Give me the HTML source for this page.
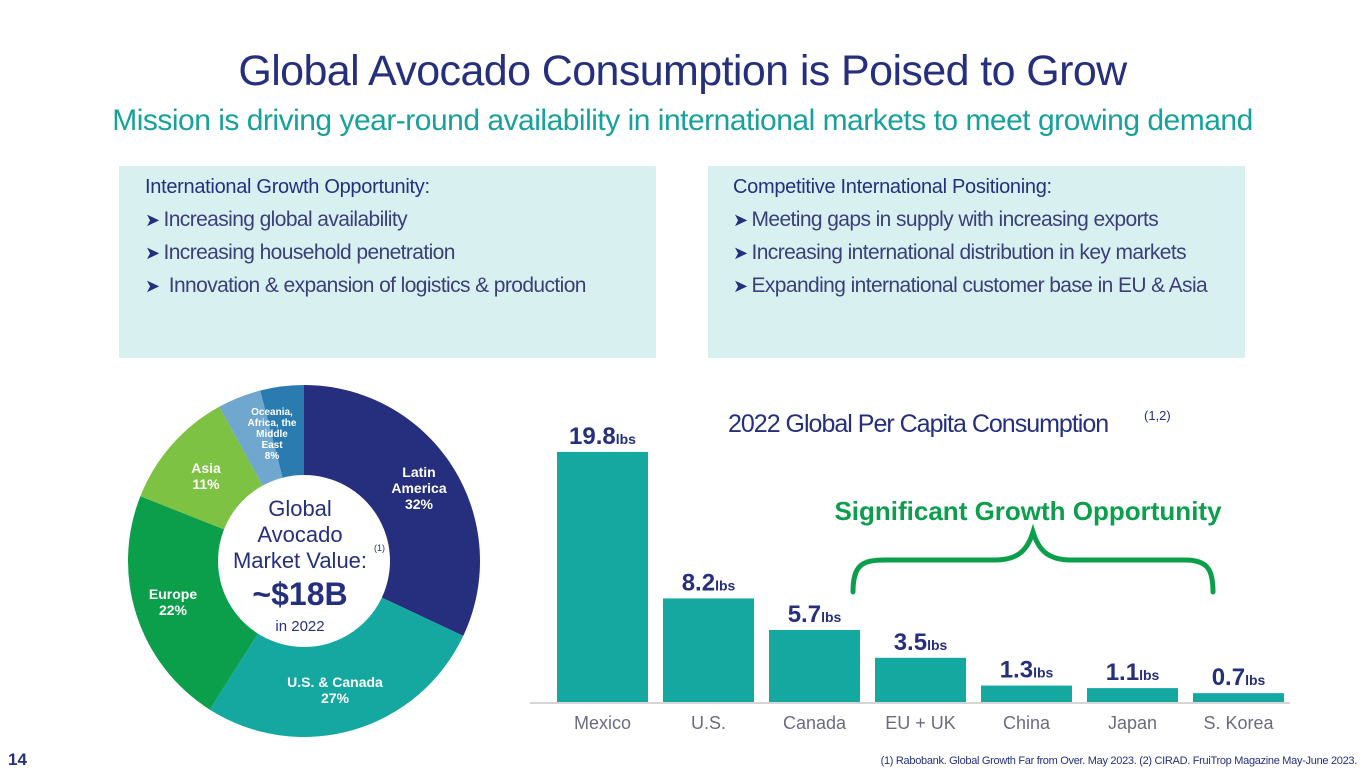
<!DOCTYPE html>
<html><head><meta charset="utf-8">
<style>
body{margin:0;width:1365px;height:780px;background:#fff;position:relative;overflow:hidden;font-family:"Liberation Sans",sans-serif;}
.abs{position:absolute;}
.title{left:0;width:1365px;top:47px;text-align:center;font-size:43px;color:#252f7e;letter-spacing:-0.6px;}
.sub{left:0;width:1365px;top:104px;text-align:center;font-size:30px;color:#17a19a;letter-spacing:-0.5px;}
.box{background:#d9f0f1;}
.box .h{font-size:20px;color:#252f7e;margin-bottom:9px;letter-spacing:-0.3px;}
.box .li{font-size:21px;color:#3a3f7a;margin-bottom:9px;letter-spacing:-0.6px;}
.box .li b{font-weight:normal;color:#252f7e;font-size:18px;margin-right:4px;}
</style></head><body>
<div class="abs title">Global Avocado Consumption is Poised to Grow</div>
<div class="abs sub">Mission is driving year-round availability in international markets to meet growing demand</div>

<div class="abs box" style="left:119px;top:166px;width:537px;height:192px;padding:10px 0 0 26px;box-sizing:border-box;">
<div class="h">International Growth Opportunity:</div>
<div class="li"><b>➤</b>Increasing global availability</div>
<div class="li"><b>➤</b>Increasing household penetration</div>
<div class="li"><b>➤</b> Innovation &amp; expansion of logistics &amp; production</div>
</div>
<div class="abs box" style="left:708px;top:166px;width:537px;height:192px;padding:10px 0 0 25px;box-sizing:border-box;">
<div class="h">Competitive International Positioning:</div>
<div class="li"><b>➤</b>Meeting gaps in supply with increasing exports</div>
<div class="li"><b>➤</b>Increasing international distribution in key markets</div>
<div class="li"><b>➤</b>Expanding international customer base in EU &amp; Asia</div>
</div>

<svg class="abs" style="left:0;top:0" width="1365" height="780" id="chart"></svg>

<div class="abs" style="left:8px;top:750px;font-size:17px;font-weight:bold;color:#252f7e;">14</div>
<div class="abs" style="right:8px;top:755px;font-size:11px;color:#252f7e;letter-spacing:-0.3px;">(1) Rabobank. Global Growth Far from Over. May 2023. (2) CIRAD. FruiTrop Magazine May-June 2023.</div>

<script>
const regions = ["Latin America","U.S. & Canada","Europe","Asia","Oceania, Africa, the Middle East (a)","Oceania, Africa, the Middle East (b)"];
const shares = [32,27,22,11,4,4];
const sliceColors = ["#252f7e","#14a8a0","#0b9f4c","#7dc242","#6fa7cf","#2a7bb0"];
const countries = ["Mexico","U.S.","Canada","EU + UK","China","Japan","S. Korea"];
const perCapita = [19.8,8.2,5.7,3.5,1.3,1.1,0.7];
const valueLabels = ["19.8","8.2","5.7","3.5","1.3","1.1","0.7"];

const NS="http://www.w3.org/2000/svg";
const svg=document.getElementById('chart');
function mk(t,a,txt){const e=document.createElementNS(NS,t);for(const k in a)e.setAttribute(k,a[k]);if(txt!=null)e.textContent=txt;svg.appendChild(e);return e;}

// donut
const cx=304,cy=561,R=176,r=86;
const total=shares.reduce((a,b)=>a+b,0);
let acc=0;
function pt(rad,f){const a=f*2*Math.PI-Math.PI/2;return [cx+rad*Math.cos(a),cy+rad*Math.sin(a)];}
shares.forEach((s,i)=>{
  const f0=acc/total,f1=(acc+s)/total;acc+=s;
  const [x0,y0]=pt(R,f0),[x1,y1]=pt(R,f1),[x2,y2]=pt(r,f1),[x3,y3]=pt(r,f0);
  const lg=(f1-f0)>0.5?1:0;
  const p=mk('path',{d:`M${x0},${y0}A${R},${R} 0 ${lg} 1 ${x1},${y1}L${x2},${y2}A${r},${r} 0 ${lg} 0 ${x3},${y3}Z`,fill:sliceColors[i]});
  
  
});
const sl=[["Latin","America","32%",419,472],["U.S. & Canada","27%",null,335,682],["Europe","22%",null,173,594],["Asia","11%",null,206,468]];
sl.forEach(l=>{
  const lines=l.slice(0,3).filter(x=>x);
  lines.forEach((t,j)=>{
    const e=mk('text',{x:l[3],y:l[4]+j*16+5,'text-anchor':'middle','font-size':14,'font-weight':'bold',fill:'#fff'},t);
    
    
  });
});
["Oceania,","Africa, the","Middle","East","8%"].forEach((t,j)=>{
  const e=mk('text',{x:272,y:415+j*11,'text-anchor':'middle','font-size':10,'font-weight':'bold',fill:'#fff'},t);
  
  
});
[["Global",516,22,'normal'],["Avocado",542,22,'normal'],["Market Value:",568,22,'normal'],["~$18B",605,32,'bold'],["in 2022",631,15,'normal']].forEach(l=>{
  const e=mk('text',{x:300,y:l[1],'text-anchor':'middle','font-size':l[2],'font-weight':l[3],fill:'#252f7e'},l[0]);
  
  
});
mk('text',{x:374,y:551,'font-size':9,fill:'#252f7e'},"(1)");

// bars
const base=702,pxPer=12.63,x0b=557,step=106,bw=91;
const yv=v=>base-v*pxPer;
const xb=i=>x0b+i*step;
const ax=mk('line',{x1:530,x2:1290,y1:base+1,y2:base+1,stroke:'#d5d5d5','stroke-width':2});


perCapita.forEach((v,i)=>{
  const b=mk('rect',{x:xb(i),y:yv(v),width:bw,height:base-yv(v),fill:'#14a8a0'});
  
  
  const t=mk('text',{x:xb(i)+bw/2,y:yv(v)-8,'text-anchor':'middle',fill:'#252f7e'});
  
  
  const a=document.createElementNS(NS,'tspan');a.setAttribute('font-size',24);a.setAttribute('font-weight','bold');a.textContent=valueLabels[i];t.appendChild(a);
  const u=document.createElementNS(NS,'tspan');u.setAttribute('font-size',14);u.setAttribute('font-weight','bold');u.textContent='lbs';t.appendChild(u);
  const c=mk('text',{x:xb(i)+bw/2,y:729,'text-anchor':'middle','font-size':18,fill:'#6b6b80'},countries[i]);
  
  
});
const ct=mk('text',{x:728,y:432,'font-size':25,fill:'#252f7e','letter-spacing':'-1'},"2022 Global Per Capita Consumption");


mk('text',{x:1144,y:420,'font-size':13,fill:'#252f7e'},"(1,2)");
const sg=mk('text',{x:1028,y:520,'text-anchor':'middle','font-size':26,'font-weight':'bold',fill:'#0b9f4c'},"Significant Growth Opportunity");


const br=mk('path',{d:"M853,592 C853,565 862,560 885,560 L995,560 C1020,560 1028,548 1033,532 C1038,548 1046,560 1071,560 L1185,560 C1208,560 1213,570 1213,592",fill:'none',stroke:'#0b9f4c','stroke-width':5,'stroke-linecap':'round'});


</script>
</body></html>
